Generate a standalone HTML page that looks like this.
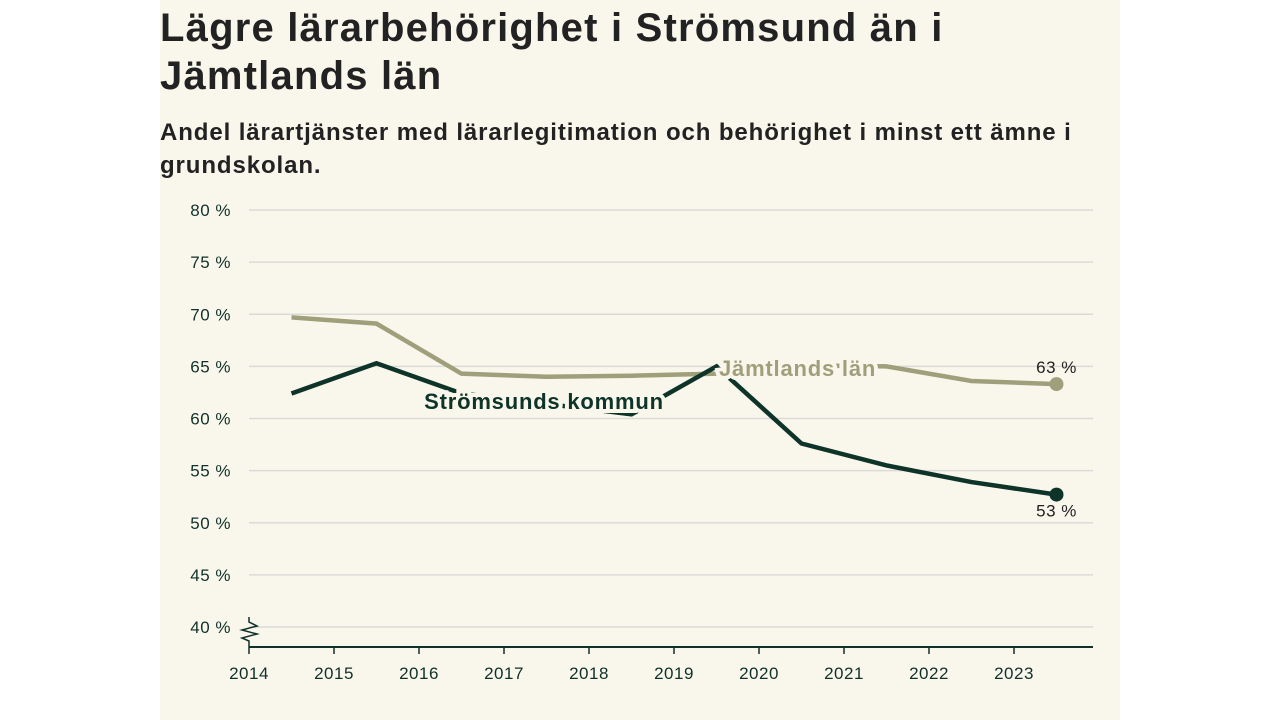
<!DOCTYPE html>
<html><head><meta charset="utf-8"><style>
html,body{margin:0;padding:0;background:#fff;width:1280px;height:720px;overflow:hidden;font-family:"Liberation Sans",sans-serif}
#panel{position:absolute;left:160px;top:0;width:960px;height:720px;background:#f9f7ec}
h1{position:absolute;left:160px;top:4px;margin:0;font-size:40px;line-height:48px;font-weight:bold;color:#222;width:960px;letter-spacing:1.2px}
h2{position:absolute;left:160px;top:116px;margin:0;font-size:24px;line-height:33px;font-weight:bold;color:#222;width:945px;letter-spacing:0.9px}
svg{position:absolute;left:0;top:0}
</style></head><body>
<div id="panel"></div>
<h1>Lägre lärarbehörighet i Strömsund än i Jämtlands län</h1>
<h2>Andel lärartjänster med lärarlegitimation och behörighet i minst ett ämne i grundskolan.</h2>
<svg id="chart" width="1280" height="720"></svg>
<script>
const years=[2014,2015,2016,2017,2018,2019,2020,2021,2022,2023];
const yTicks=[40,45,50,55,60,65,70,75,80];
const jamtland=[69.7,69.1,64.3,64.0,64.1,64.3,65.1,65.0,63.6,63.3];
const stromsund=[62.4,65.3,62.4,61.4,60.4,65.0,57.6,55.5,53.9,52.7];
const NS='http://www.w3.org/2000/svg';
const svg=document.getElementById('chart');
const x=v=>249+(v-2014)*85.0;
const y=v=>627-(v-40)*10.425;
function mk(t,a){const e=document.createElementNS(NS,t);for(const k in a)e.setAttribute(k,a[k]);svg.appendChild(e);return e;}
yTicks.forEach(t=>{
 const g=mk('line',{x1:249,x2:1093,y1:y(t),y2:y(t),stroke:'#dcdad8','stroke-width':1.5});
 
 
 const l=mk('text',{x:231,y:y(t)+6,'text-anchor':'end','font-size':17,fill:'#10302a','letter-spacing':0.5});
 l.textContent=t+' %';
 
 
});
const ax=mk('line',{x1:249,x2:1093,y1:647,y2:647,stroke:'#10302a','stroke-width':2});


const zz=mk('path',{d:'M249 617 L249 622 L257 626 L242 630 L257 634 L242 638 L249 641 L249 647',fill:'none',stroke:'#10302a','stroke-width':1.5});


years.forEach(yr=>{
 const t=mk('line',{x1:x(yr),x2:x(yr),y1:647,y2:654,stroke:'#10302a','stroke-width':1.5});
 
 
 const l=mk('text',{x:x(yr),y:679,'text-anchor':'middle','font-size':17,fill:'#10302a','letter-spacing':0.5});
 l.textContent=yr;
 
 
});
function series(vals,color,name){
 const d=vals.map((v,i)=>(i?'L':'M')+x(years[i]+0.5)+' '+y(v)).join(' ');
 const p=mk('path',{d:d,fill:'none',stroke:color,'stroke-width':4.5,'stroke-linejoin':'miter'});
 
 
 const n=vals.length-1;
 const c=mk('circle',{cx:x(years[n]+0.5),cy:y(vals[n]),r:7,fill:color});
 
 
}
series(jamtland,'#a09f7b','jamtland');
series(stromsund,'#0e3328','stromsund');
function label(txt,lx,ly,col,anchor,name,size){
 const t=mk('text',{x:lx,y:ly,'text-anchor':anchor,'font-size':size,'font-weight':'bold',fill:col,stroke:'#f9f7ec','stroke-width':8,'paint-order':'stroke','letter-spacing':0.8});
 t.textContent=txt;
 
 
}
label('Strömsunds kommun',544,409,'#0e3328','middle','stromsund-label',22);
label('Jämtlands län',719,376,'#a09f7b','start','jamtland-label',22);
const last=years.length-1;
const a=mk('text',{x:x(years[last]+0.5),y:y(jamtland[last])-11,'text-anchor':'middle','font-size':17,fill:'#222','letter-spacing':0.5});
a.textContent=Math.round(jamtland[last])+' %';


const b=mk('text',{x:x(years[last]+0.5),y:y(stromsund[last])+22,'text-anchor':'middle','font-size':17,fill:'#222','letter-spacing':0.5});
b.textContent=Math.round(stromsund[last])+' %';


</script>
</body></html>
